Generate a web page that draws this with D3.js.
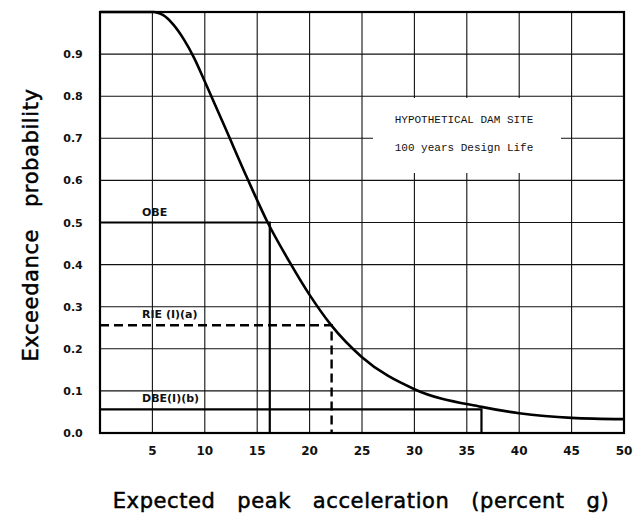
<!DOCTYPE html>
<html>
<head>
<meta charset="utf-8">
<script src="https://cdn.jsdelivr.net/npm/d3@7"></script>
<style>
  body { margin: 0; background: #fff; }
  svg { display: block; }
</style>
</head>
<body>
<script>
// curve
var accel = [5.2, 6, 7, 8, 9, 10, 12, 14, 16, 18, 20, 22, 25, 30, 36.4, 40, 45, 50];
var prob  = [1.0, 0.993, 0.97, 0.935, 0.89, 0.835, 0.722, 0.608, 0.5, 0.41, 0.328, 0.258, 0.18, 0.104, 0.062, 0.047, 0.036, 0.033];

var xTicks = [5, 10, 15, 20, 25, 30, 35, 40, 45, 50];
var yTicks = [0, 0.1, 0.2, 0.3, 0.4, 0.5, 0.6, 0.7, 0.8, 0.9];

// design levels: name, exceedance probability, acceleration, dashed?
var levels = [
  ["OBE", 0.5, 16.2, false],
  ["RIE (I)(a)", 0.256, 22.1, true],
  ["DBE(I)(b)", 0.056, 36.4, false]
];
var noteLines = ["HYPOTHETICAL DAM SITE", "100 years Design Life"];

var W = 633, H = 525;
var pL = 100, pR = 624, pT = 12, pB = 433;

var x = d3.scaleLinear().domain([0, 50]).range([pL, pR]);
var y = d3.scaleLinear().domain([0, 1]).range([pB, pT]);

var svg = d3.select("body").append("svg")
    .attr("width", W)
    .attr("height", H);

// grid
var grid = svg.append("g").attr("stroke", "#111").attr("stroke-width", 1.1);
grid.selectAll(".vg").data(xTicks.slice(0, -1)).enter().append("line")
    .attr("x1", function(d){ return x(d); }).attr("x2", function(d){ return x(d); })
    .attr("y1", y(1)).attr("y2", y(0));
grid.selectAll(".hg").data(yTicks.slice(1)).enter().append("line")
    .attr("x1", x(0)).attr("x2", x(50))
    .attr("y1", function(d){ return y(d); }).attr("y2", function(d){ return y(d); });

// white patch behind the note
svg.append("rect")
    .attr("x", 373).attr("y", 98).attr("width", 188).attr("height", 75)
    .attr("fill", "#fff");
svg.append("g").selectAll("text").data(noteLines).enter().append("text")
    .attr("x", 464)
    .attr("y", function(d, i){ return 123 + i * 28; })
    .attr("text-anchor", "middle")
    .attr("font-family", "Liberation Mono, DejaVu Sans Mono, monospace")
    .attr("font-size", 11)
    .attr("fill", "#111")
    .text(function(d){ return d; });

// frame
svg.append("rect")
    .attr("x", x(0)).attr("y", y(1))
    .attr("width", x(50) - x(0)).attr("height", y(0) - y(1))
    .attr("fill", "none").attr("stroke", "#000").attr("stroke-width", 2.2);

// design level lines
var lv = svg.append("g");
levels.forEach(function(l){
  var path = d3.path();
  path.moveTo(x(0), y(l[1]));
  path.lineTo(x(l[2]), y(l[1]));
  path.lineTo(x(l[2]), y(0));
  lv.append("path")
    .attr("d", path.toString())
    .attr("fill", "none")
    .attr("stroke", "#000")
    .attr("stroke-width", l[3] ? 2.4 : 2.2)
    .attr("stroke-dasharray", l[3] ? "9,5" : null);
  lv.append("text")
    .attr("x", 142)
    .attr("y", y(l[1]) - 7)
    .attr("font-family", "DejaVu Sans, sans-serif")
    .attr("font-size", 11)
    .attr("font-weight", "bold")
    .attr("fill", "#111")
    .text(l[0]);
});

// exceedance curve
var line = d3.line()
    .x(function(d, i){ return x(accel[i]); })
    .y(function(d){ return y(d); })
    .curve(d3.curveMonotoneX);
svg.append("path")
    .attr("d", line(prob))
    .attr("fill", "none")
    .attr("stroke", "#000")
    .attr("stroke-width", 2.6);
// flat start along top
svg.append("line")
    .attr("x1", x(0)).attr("x2", x(accel[0]))
    .attr("y1", y(1)).attr("y2", y(1))
    .attr("stroke", "#000").attr("stroke-width", 2.6);

// tick labels
svg.append("g").selectAll("text").data(yTicks).enter().append("text")
    .attr("x", 73)
    .attr("y", function(d){ return y(d) + 4; })
    .attr("text-anchor", "middle")
    .attr("font-family", "DejaVu Sans, sans-serif")
    .attr("font-size", 11)
    .attr("font-weight", "bold")
    .attr("fill", "#111")
    .text(function(d){ return d.toFixed(1); });

svg.append("g").selectAll("text").data(xTicks).enter().append("text")
    .attr("x", function(d){ return x(d); })
    .attr("y", 455)
    .attr("text-anchor", "middle")
    .attr("font-family", "DejaVu Sans, sans-serif")
    .attr("font-size", 12)
    .attr("font-weight", "bold")
    .attr("fill", "#111")
    .text(function(d){ return d; });

// axis titles
svg.append("text")
    .attr("x", 361).attr("y", 508)
    .attr("text-anchor", "middle")
    .attr("font-family", "DejaVu Sans, sans-serif")
    .attr("font-size", 21)
    .attr("letter-spacing", 0.6)
    .attr("fill", "#000")
    .attr("stroke", "#000")
    .attr("stroke-width", 0.5)
    .style("white-space", "pre")
    .text("Expected   peak   acceleration   (percent   g)");

svg.append("text")
    .attr("transform", "translate(38,225) rotate(-90)")
    .attr("text-anchor", "middle")
    .attr("font-family", "DejaVu Sans, sans-serif")
    .attr("font-size", 21)
    .attr("letter-spacing", 0.6)
    .attr("fill", "#000")
    .attr("stroke", "#000")
    .attr("stroke-width", 0.5)
    .style("white-space", "pre")
    .text("Exceedance   probability");
</script>
</body>
</html>
